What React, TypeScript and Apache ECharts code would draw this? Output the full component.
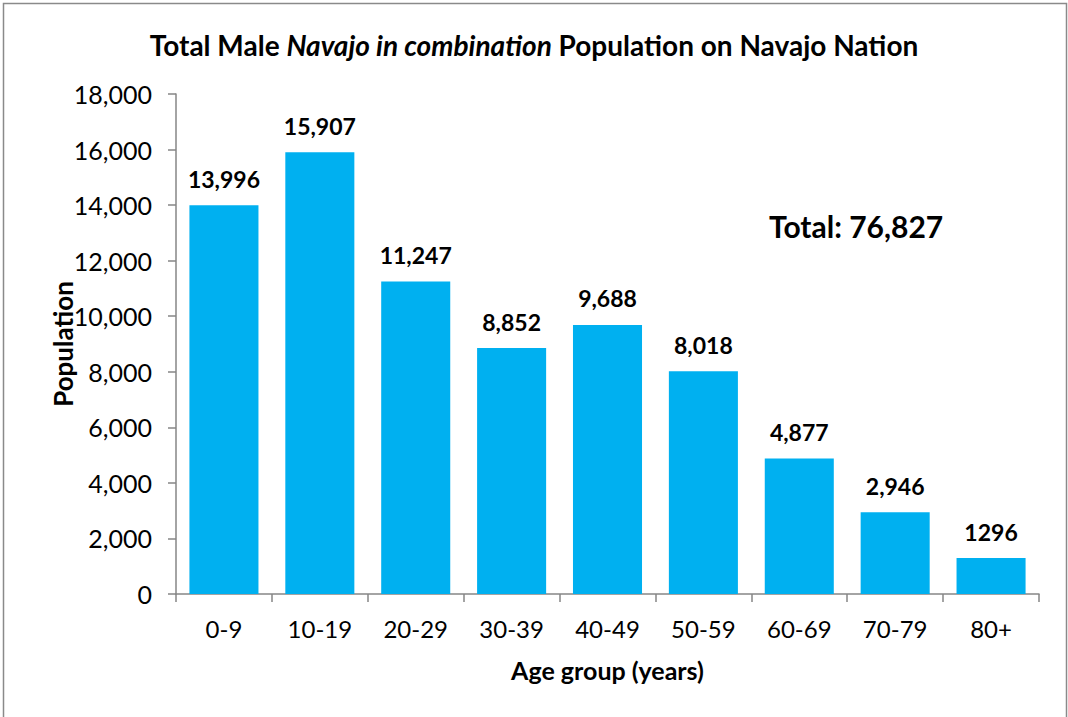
import React, { useEffect, useRef } from "react";
import * as echarts from "echarts";

const categories = ["0-9", "10-19", "20-29", "30-39", "40-49", "50-59", "60-69", "70-79", "80+"];
const values = [13996, 15907, 11247, 8852, 9688, 8018, 4877, 2946, 1296];
const valueLabels = ["13,996", "15,907", "11,247", "8,852", "9,688", "8,018", "4,877", "2,946", "1296"];
const totalLabel = "Total: 76,827";

const FONT = "Lato, 'Noto Sans', sans-serif";

export default function App() {
  const ref = useRef<HTMLDivElement>(null);
  useEffect(() => {
    document.body.style.margin = "0";
    const chart = echarts.init(ref.current!, null, { renderer: "svg" });
    chart.setOption({
      animation: false,
      backgroundColor: "#ffffff",
      textStyle: { fontFamily: FONT },
      title: {
        text: "{b|Total Male }{i|Navajo in combination}{b| Population on Navajo Nation}",
        left: "center",
        top: 26,
        textStyle: {
          rich: {
            b: { fontFamily: FONT, fontWeight: "bold", fontSize: 28, color: "#000" },
            i: { fontFamily: FONT, fontWeight: "bold", fontStyle: "italic", fontSize: 28, color: "#000" },
          },
        },
      },
      graphic: [
        {
          type: "rect",
          shape: { x: 3.5, y: 3.5, width: 1063, height: 730 },
          style: { fill: "none", stroke: "#8a8a8a", lineWidth: 1.5 },
        },
        {
          type: "text",
          left: 769,
          top: 211,
          style: { text: totalLabel, fontFamily: FONT, fontWeight: "bold", fontSize: 30, fill: "#000" },
        },
      ],
      grid: { left: 176, top: 94, right: 29, bottom: 123, containLabel: false },
      xAxis: {
        type: "category",
        data: categories,
        name: "Age group (years)",
        nameLocation: "middle",
        nameGap: 63,
        nameTextStyle: { fontFamily: FONT, fontWeight: "bold", fontSize: 25, color: "#000" },
        axisLine: { lineStyle: { color: "#868686", width: 1.5 } },
        axisTick: { show: true, alignWithLabel: false, length: 8, lineStyle: { color: "#868686", width: 1.5 } },
        axisLabel: { fontFamily: FONT, fontSize: 24, color: "#000", margin: 22 },
      },
      yAxis: {
        type: "value",
        min: 0,
        max: 18000,
        interval: 2000,
        name: "Population",
        nameLocation: "middle",
        nameGap: 100,
        nameMoveOverlap: false,
        nameRotate: 90,
        nameTextStyle: { fontFamily: FONT, fontWeight: "bold", fontSize: 26, color: "#000" },
        axisLine: { show: true, lineStyle: { color: "#868686", width: 1.5 } },
        axisTick: { show: true, length: 8, lineStyle: { color: "#868686", width: 1.5 } },
        splitLine: { show: false },
        axisLabel: {
          fontFamily: FONT,
          fontSize: 25,
          color: "#000",
          margin: 24,
          formatter: (v: number) => v.toLocaleString("en-US"),
        },
      },
      series: [
        {
          type: "bar",
          data: values,
          barCategoryGap: "28%",
          itemStyle: { color: "#00B0F0" },
          label: {
            show: true,
            position: "top",
            distance: 15,
            fontFamily: FONT,
            fontWeight: "bold",
            fontSize: 23,
            color: "#000",
            formatter: (p: any) => valueLabels[p.dataIndex],
          },
        },
      ],
    });
    return () => chart.dispose();
  }, []);
  return <div ref={ref} style={{ width: 1068, height: 717 }} />;
}
